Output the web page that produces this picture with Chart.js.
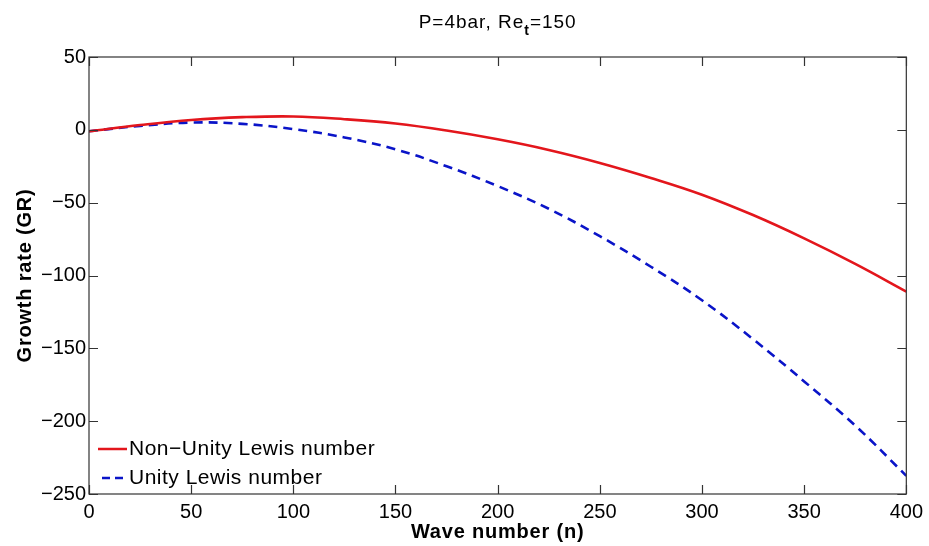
<!DOCTYPE html>
<html>
<head>
<meta charset="UTF-8">
<title>Growth rate</title>
<script src="https://cdn.jsdelivr.net/npm/chart.js"></script>
<style>
  body { margin: 0; background: #fff; }
  #wrap { width: 929px; height: 546px; }
</style>
</head>
<body>
<div id="wrap"><canvas id="grChart" width="929" height="546"></canvas></div>
<script>
// values
const waveNumber = [0, 25, 50, 75, 100, 125, 150, 175, 200, 225, 250, 275, 300, 325, 350, 375, 400];
const nonUnityLewis = [-1, 3.3, 6.8, 8.7, 9.2, 7.3, 4.3, -0.5, -6.5, -13.8, -22.7, -33, -44.5, -58.5, -74.5, -92, -111];
const unityLewis = [-1, 2.7, 5.0, 4.1, 0.5, -5.2, -13.4, -25, -38.6, -54.2, -73, -94, -117, -143.7, -172.7, -203, -237.5];
const xTicks = [0, 50, 100, 150, 200, 250, 300, 350, 400];
const yTicks = [50, 0, -50, -100, -150, -200, -250];

const FONT = "'Liberation Sans', Arial, sans-serif";

function pts(ys) {
    return waveNumber.map((n, i) => ({ x: n, y: ys[i] }));
}

// box, inward ticks, titles and legend in the matlab look
const matlabDecor = {
    id: 'matlabDecor',
    afterDatasetsDraw(chart) {
        const ctx = chart.ctx;
        const a = chart.chartArea;
        const xs = chart.scales.x, ys = chart.scales.y;
        ctx.save();
        ctx.strokeStyle = '#333';
        ctx.lineWidth = 1.2;
        ctx.strokeRect(a.left, a.top, a.right - a.left, a.bottom - a.top);
        ctx.beginPath();
        xTicks.forEach(v => {
            const px = Math.round(xs.getPixelForValue(v)) + 0.5;
            ctx.moveTo(px, a.bottom); ctx.lineTo(px, a.bottom - 9);
            ctx.moveTo(px, a.top); ctx.lineTo(px, a.top + 9);
        });
        yTicks.forEach(v => {
            const py = Math.round(ys.getPixelForValue(v)) + 0.5;
            ctx.moveTo(a.left, py); ctx.lineTo(a.left + 9, py);
            ctx.moveTo(a.right, py); ctx.lineTo(a.right - 9, py);
        });
        ctx.stroke();

        // title with subscript
        ctx.fillStyle = '#000';
        ctx.textBaseline = 'alphabetic';
        ctx.letterSpacing = '1px';
        const big = '19px ' + FONT, small = 'bold 14px ' + FONT;
        const parts = [['P=4bar, Re', big, 0], ['t', small, 7], ['=150', big, 0]];
        let w = 0;
        parts.forEach(p => { ctx.font = p[1]; w += ctx.measureText(p[0]).width; });
        let x = (a.left + a.right) / 2 - w / 2;
        parts.forEach(p => {
            ctx.font = p[1];
            ctx.textAlign = 'left';
            ctx.fillText(p[0], x, 28 + p[2]);
            x += ctx.measureText(p[0]).width;
        });

        // axis titles
        ctx.font = 'bold 20px ' + FONT;
        ctx.letterSpacing = '0.8px';
        ctx.textAlign = 'center';
        ctx.fillText('Wave number (n)', (a.left + a.right) / 2, 538);
        ctx.save();
        ctx.translate(31, (a.top + a.bottom) / 2);
        ctx.rotate(-Math.PI / 2);
        ctx.fillText('Growth rate (GR)', 0, 0);
        ctx.restore();

        // legend
        ctx.font = '21px ' + FONT;
        ctx.letterSpacing = '0.5px';
        ctx.textAlign = 'left';
        ctx.textBaseline = 'middle';
        chart.data.datasets.forEach((ds, i) => {
            const ly = 449 + i * 29;
            ctx.beginPath();
            ctx.strokeStyle = ds.borderColor;
            ctx.lineWidth = 2.5;
            ctx.setLineDash(ds.borderDash ? [8, 5] : []);
            if (ds.borderDash) { ctx.moveTo(102, ly); ctx.lineTo(124, ly); }
            else { ctx.moveTo(98, ly); ctx.lineTo(127, ly); }
            ctx.stroke();
            ctx.setLineDash([]);
            ctx.fillStyle = '#000';
            ctx.fillText(ds.label, 129, ly);
        });
        ctx.restore();
    }
};

new Chart(document.getElementById('grChart').getContext('2d'), {
    type: 'line',
    data: {
        datasets: [{
            label: 'Non\u2212Unity Lewis number',
            data: pts(nonUnityLewis),
            borderColor: '#e3161c',
            borderWidth: 2.6,
            pointRadius: 0,
            tension: 0.4,
            fill: false
        }, {
            label: 'Unity Lewis number',
            data: pts(unityLewis),
            borderColor: '#0a14c8',
            borderWidth: 2.6,
            borderDash: [9, 6],
            pointRadius: 0,
            tension: 0.4,
            fill: false
        }]
    },
    options: {
        responsive: false,
        animation: false,
        layout: { padding: { left: 0, top: 57, right: 21, bottom: 0 } },
        plugins: { legend: { display: false }, tooltip: { enabled: false } },
        scales: {
            x: {
                type: 'linear', min: 0, max: 400,
                afterBuildTicks: s => { s.ticks = xTicks.map(v => ({ value: v })); },
                afterFit: s => { s.height = 52; },
                grid: { display: false, drawTicks: false },
                border: { display: false },
                ticks: { color: '#000', padding: 6, font: { family: FONT, size: 20 } }
            },
            y: {
                min: -250, max: 50,
                afterBuildTicks: s => { s.ticks = yTicks.map(v => ({ value: v })); },
                afterFit: s => { s.width = 89; },
                grid: { display: false, drawTicks: false },
                border: { display: false },
                ticks: {
                    color: '#000', padding: 3, font: { family: FONT, size: 20 },
                    callback: v => String(v).replace('-', '\u2212')
                }
            }
        }
    },
    plugins: [matlabDecor]
});
</script>
</body>
</html>
